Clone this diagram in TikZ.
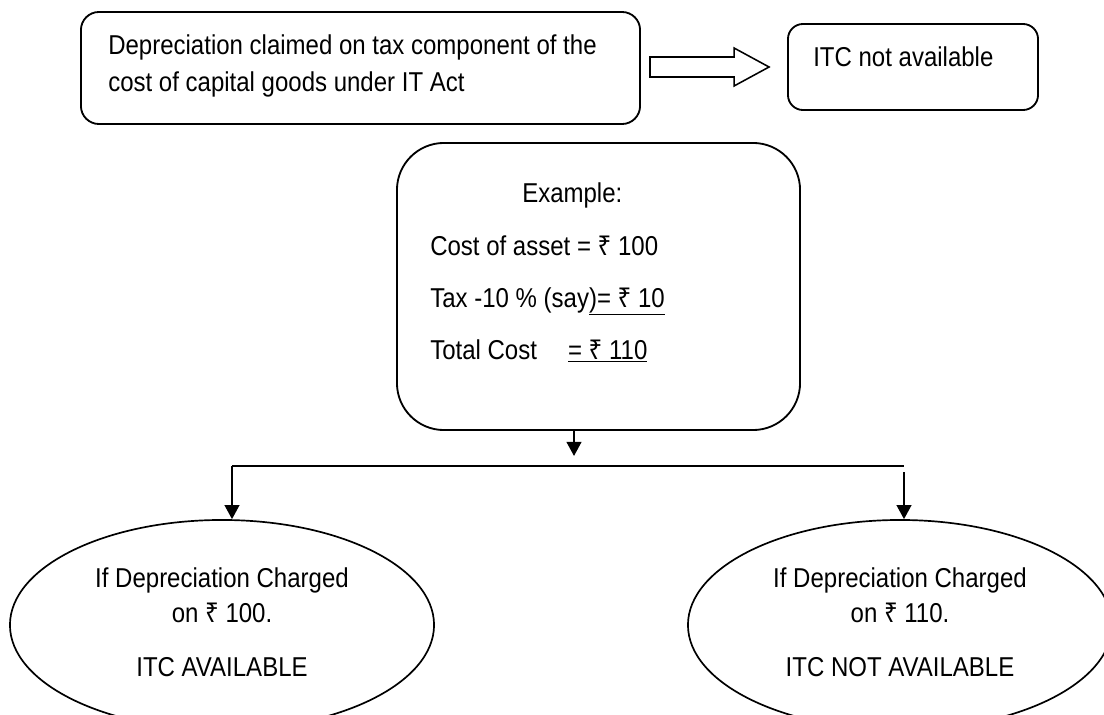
\documentclass[tikz,border=0pt]{standalone}
\usepackage{fontspec}
\setmainfont[FakeStretch=0.88]{Liberation Sans}
\newfontfamily\rupeefont[FakeStretch=0.88]{Noto Sans}
\usepackage{tikz}
\usetikzlibrary{calc,arrows.meta,shapes.geometric}
\newcommand{\rs}{{\rupeefont ₹}}
\def\drawflow{\draw[line width=1.1pt,-{Triangle[length=0.35cm,width=0.37cm]}]}
\def\drawline{\draw[line width=1.1pt]}
\def\boxnode{\node[draw=black,line width=1.3pt,inner sep=0pt]}
\def\casenode{\node[ellipse,draw=black,line width=1.2pt,inner sep=0pt,minimum width=10.6cm,minimum height=5.25cm]}
\def\txtnode{\node[inner sep=0pt,anchor=base west]}
\def\midnode{\node[inner sep=0pt,anchor=base]}

\begin{document}
\begin{tikzpicture}[x=0.025cm,y=-0.025cm,font=\fontsize{19.4}{22}\selectfont]
\useasboundingbox (0,0) rectangle (1104,715);

% -------- top row ---------
\boxnode[rounded corners=0.45cm,minimum width=13.975cm,minimum height=2.8cm] (dep) at (360.5,68) {};
\txtnode (dep1) at (108,55) {Depreciation claimed on tax component of the};
\txtnode (dep2) at (108,92) {cost of capital goods under IT Act};
\boxnode[rounded corners=0.375cm,minimum width=6.25cm,minimum height=2.15cm] (itc) at (913,67) {};
\txtnode (itc1) at (813,67) {ITC not available};
% hollow arrow, shaft from dep, head just short of itc (kept level with itc)
\coordinate (shaft) at (dep.east |- itc.west);
\drawline ($(shaft)+(9,-10)$) -- ($(itc.west)+(-53,-10)$) -- ($(itc.west)+(-53,-19)$)
  -- ($(itc.west)+(-18,0)$) -- ($(itc.west)+(-53,19)$) -- ($(itc.west)+(-53,10)$)
  -- ($(shaft)+(9,10)$) -- cycle;

% -------- example box ---------
\boxnode[rounded corners=1.175cm,minimum width=10.075cm,minimum height=7.175cm] (example) at (598.5,286.5) {};
\txtnode (ex0) at (522,203) {Example:};
\txtnode (ex1) at (430,256) {Cost of asset = \rs{} 100};
\txtnode (ex2) at (430,307) {Tax -10 \% (say\underline{)= \rs{} 10}};
\txtnode (ex3) at (430,359) {Total Cost\hspace{0.775cm}\underline{= \rs{} 110}};

% -------- the two cases ---------
\casenode (leftcase) at (222,625) {};
\casenode (rightcase) at (900,625) {};
\midnode (l1) at ($(leftcase.center)+(0,-38)$) {If Depreciation Charged};
\midnode (l2) at ($(leftcase.center)+(0,-3)$) {on \rs{} 100.};
\midnode (l3) at ($(leftcase.center)+(0,51)$) {ITC AVAILABLE};
\midnode (r1) at ($(rightcase.center)+(0,-38)$) {If Depreciation Charged};
\midnode (r2) at ($(rightcase.center)+(0,-3)$) {on \rs{} 110.};
\midnode (r3) at ($(rightcase.center)+(0,51)$) {ITC NOT AVAILABLE};

% -------- connectors ---------
\coordinate (outlet) at ($(example.south)+(-24.5,0)$);
\coordinate (split) at ($(outlet)+(0,25)$);
\coordinate (bleft) at (232,466);
\coordinate (bright) at (904,466);
\drawflow (outlet) -- (split);
\drawline (bleft) -- (bright);
\drawflow (bleft) -- (bleft |- leftcase.north);
\drawflow ($(bright)+(0,6)$) -- (bright |- rightcase.north);
\end{tikzpicture}
\end{document}
